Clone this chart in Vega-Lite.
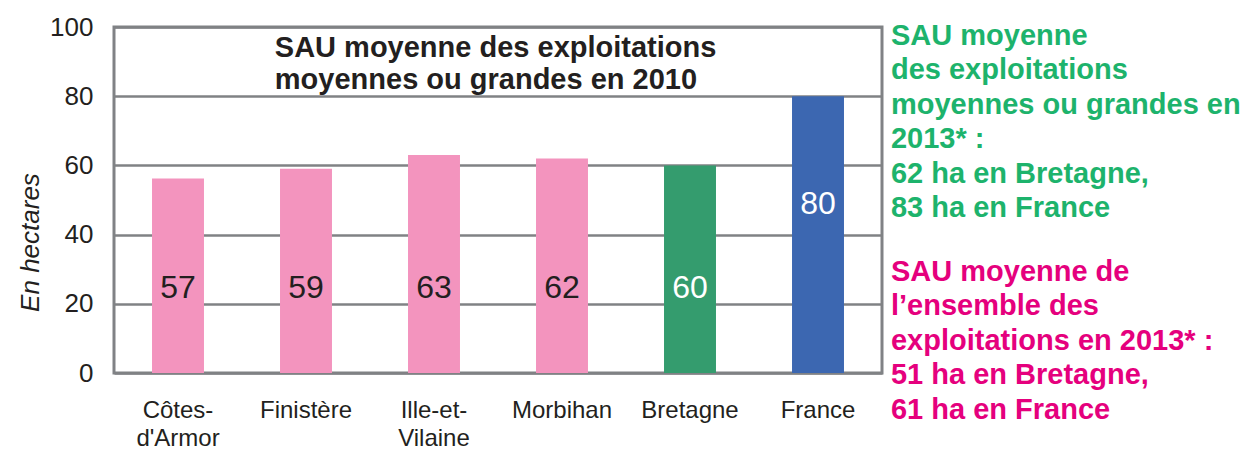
{
  "$schema": "https://vega.github.io/schema/vega-lite/v6.json",
  "width": 768,
  "height": 346,
  "autosize": {"type": "none"},
  "padding": {"left": 114, "top": 27, "right": 361, "bottom": 77},
  "background": "white",
  "config": {
    "font": "Liberation Sans",
    "view": {"stroke": "#808285", "strokeWidth": 3}
  },
  "data": {
    "values": [
      {"name": "Côtes-d'Armor", "value": 56.2, "label": "57", "group": "Département"},
      {"name": "Finistère", "value": 59, "label": "59", "group": "Département"},
      {"name": "Ille-et-Vilaine", "value": 63, "label": "63", "group": "Département"},
      {"name": "Morbihan", "value": 62, "label": "62", "group": "Département"},
      {"name": "Bretagne", "value": 60, "label": "60", "group": "Région"},
      {"name": "France", "value": 80, "label": "80", "group": "France"}
    ]
  },
  "encoding": {
    "x": {
      "field": "name",
      "type": "nominal",
      "sort": null,
      "scale": {"paddingInner": 0.594, "paddingOuter": 0.297},
      "axis": {
        "title": null,
        "domain": false,
        "ticks": false,
        "labelAngle": 0,
        "labelFont": "Liberation Sans",
        "labelFontSize": 24,
        "labelColor": "#231f20",
        "labelPadding": 25,
        "labelBaseline": "top",
        "labelLineHeight": 28,
        "labelExpr": "datum.label == \"Côtes-d'Armor\" ? ['Côtes-', \"d'Armor\"] : datum.label == 'Ille-et-Vilaine' ? ['Ille-et-', 'Vilaine'] : datum.label"
      }
    }
  },
  "layer": [
    {
      "mark": {"type": "bar"},
      "encoding": {
        "y": {
          "field": "value",
          "type": "quantitative",
          "scale": {"domain": [0, 100], "nice": false},
          "axis": {
            "values": [0, 20, 40, 60, 80, 100],
            "domain": false,
            "ticks": false,
            "tickSize": 0,
            "labelPadding": 21,
            "labelFont": "Liberation Sans",
            "labelFontSize": 26,
            "labelColor": "#231f20",
            "grid": true,
            "gridColor": "#808285",
            "gridWidth": 2.5,
            "gridOpacity": 1,
            "title": "En hectares",
            "titleFont": "Liberation Sans",
            "titleFontSize": 26,
            "titleFontStyle": "italic",
            "titleFontWeight": "normal",
            "titleColor": "#231f20",
            "titleAngle": -90,
            "titleX": -84,
            "titleY": 215,
            "titleAlign": "center",
            "titleBaseline": "middle"
          }
        },
        "color": {
          "field": "group",
          "type": "nominal",
          "scale": {"domain": ["Département", "Région", "France"], "range": ["#f394be", "#349c6e", "#3c67b1"]},
          "legend": null
        }
      }
    },
    {
      "transform": [{"filter": "datum.name != 'France'"}],
      "mark": {"type": "text", "font": "Liberation Sans", "fontSize": 32, "baseline": "middle", "align": "center"},
      "encoding": {
        "y": {"datum": 24.6, "type": "quantitative"},
        "text": {"field": "label"},
        "color": {"condition": {"test": "datum.group == 'Département'", "value": "#231f20"}, "value": "white"}
      }
    },
    {
      "transform": [{"filter": "datum.name == 'France'"}],
      "mark": {"type": "text", "font": "Liberation Sans", "fontSize": 32, "baseline": "middle", "align": "center", "color": "white"},
      "encoding": {
        "y": {"datum": 48.8, "type": "quantitative"},
        "text": {"field": "label"}
      }
    },
    {
      "data": {"values": [{"t": ["SAU moyenne des exploitations", "moyennes ou grandes en 2010"]}]},
      "mark": {"type": "text", "font": "Liberation Sans", "fontSize": 29, "fontWeight": "bold", "baseline": "middle", "align": "left", "lineHeight": 32, "color": "#231f20"},
      "encoding": {
        "x": {"datum": "Finistère", "bandPosition": -0.1},
        "y": {"datum": 93.9, "type": "quantitative"},
        "text": {"field": "t"}
      }
    },
    {
      "data": {"values": [{"t": ["SAU moyenne", "des exploitations", "moyennes ou grandes en", "2013* :", "62 ha en Bretagne,", "83 ha en France"]}]},
      "mark": {"type": "text", "font": "Liberation Sans", "fontSize": 29, "fontWeight": "bold", "baseline": "middle", "align": "left", "lineHeight": 34.5, "color": "#1db36c"},
      "encoding": {
        "x": {"datum": "France", "bandPosition": 1.904},
        "y": {"datum": 97.4, "type": "quantitative"},
        "text": {"field": "t"}
      }
    },
    {
      "data": {"values": [{"t": ["SAU moyenne de", "l’ensemble des", "exploitations en 2013* :", "51 ha en Bretagne,", "61 ha en France"]}]},
      "mark": {"type": "text", "font": "Liberation Sans", "fontSize": 29, "fontWeight": "bold", "baseline": "middle", "align": "left", "lineHeight": 34.5, "color": "#e5007d"},
      "encoding": {
        "x": {"datum": "France", "bandPosition": 1.904},
        "y": {"datum": 29.2, "type": "quantitative"},
        "text": {"field": "t"}
      }
    }
  ]
}
